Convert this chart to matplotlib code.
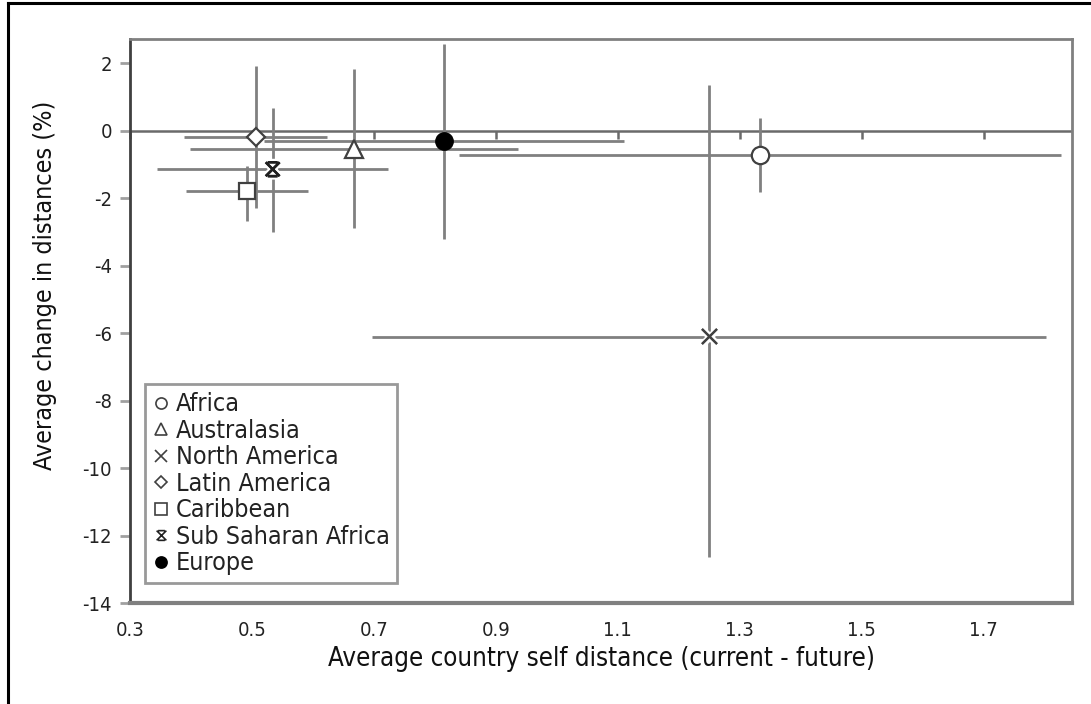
import matplotlib
matplotlib.use("Agg")
import matplotlib.pyplot as plt
from matplotlib.lines import Line2D
from matplotlib.path import Path
import matplotlib.patheffects as pe

# ---------------- data ----------------
regions = ["Africa", "Australasia", "North America", "Latin America",
           "Caribbean", "Sub Saharan Africa", "Europe"]
x_vals = [1.333, 0.667, 1.250, 0.506, 0.492, 0.534, 0.815]
y_vals = [-0.72, -0.53, -6.10, -0.18, -1.78, -1.14, -0.31]
x_err = [0.494, 0.269, 0.553, 0.117, 0.100, 0.189, 0.296]
y_err_low = [1.11, 2.35, 6.55, 2.10, 0.89, 1.87, 2.89]
y_err_high = [1.11, 2.35, 7.45, 2.10, 0.74, 1.81, 2.89]

x_ticks = [0.3, 0.5, 0.7, 0.9, 1.1, 1.3, 1.5, 1.7]
y_ticks = [2, 0, -2, -4, -6, -8, -10, -12, -14]
x_label = "Average country self distance (current - future)"
y_label = "Average change in distances (%)"

# ---------------- styles ----------------
star = Path([(-1, -1), (1, 1), (-1, 1), (1, -1), (-0.7, 1), (0.7, 1), (-0.7, -1), (0.7, -1)],
            [Path.MOVETO, Path.LINETO, Path.MOVETO, Path.LINETO,
             Path.MOVETO, Path.LINETO, Path.MOVETO, Path.LINETO])
marker_styles = {
    "Africa": dict(marker="o", mfc="white", mec="#404040", ms=12.5, mew=1.6),
    "Australasia": dict(marker="^", mfc="white", mec="#404040", ms=13, mew=1.6),
    "North America": dict(marker="x", mfc="none", mec="#404040", ms=11, mew=1.6),
    "Latin America": dict(marker="D", mfc="white", mec="#404040", ms=9.5, mew=1.6),
    "Caribbean": dict(marker="s", mfc="white", mec="#404040", ms=12, mew=1.6),
    "Sub Saharan Africa": dict(marker=star, mfc="none", mec="#202020", ms=10, mew=1.8),
    "Europe": dict(marker="o", mfc="black", mec="black", ms=12.5, mew=1.0),
}
legend_sizes = {"Africa": 8, "Australasia": 8, "North America": 8, "Latin America": 6,
                "Caribbean": 8, "Sub Saharan Africa": 7, "Europe": 8}

FONT = dict(family="DejaVu Sans", stretch="condensed")
plt.rcParams["font.family"] = "DejaVu Sans"

fig = plt.figure(figsize=(10.91, 7.04), dpi=100)
ax = fig.add_axes([130 / 1091, 1 - 603 / 704, 942 / 1091, 564 / 704])

XMIN, XMAX = 0.3, 1.845
YMIN, YMAX = -14, 2.72
ax.set_xlim(XMIN, XMAX)
ax.set_ylim(YMIN, YMAX)

grey = "#808080"
# error bars
for i, r in enumerate(regions):
    ax.errorbar([x_vals[i]], [y_vals[i]], xerr=[x_err[i]],
                yerr=[[y_err_low[i]], [y_err_high[i]]],
                fmt="none", ecolor=grey, elinewidth=2.0, capsize=0, zorder=2)

# markers
for i, r in enumerate(regions):
    st = marker_styles[r]
    ln, = ax.plot([x_vals[i]], [y_vals[i]], linestyle="none", zorder=4, **st)
    if r in ("North America", "Sub Saharan Africa"):
        ln.set_path_effects([pe.withStroke(linewidth=5, foreground="white"), pe.Normal()])

# zero line with downward ticks
ax.axhline(0, color="#6a6a6a", lw=1.8, zorder=1)
frac0 = (0 - YMIN) / (YMAX - YMIN)
sec = ax.secondary_xaxis(frac0)
for s in sec.spines.values():
    s.set_visible(False)
sec.set_xticks(x_ticks)
sec.set_xticklabels([])
sec.tick_params(axis="x", which="both", direction="in", length=6, width=1.8,
                color="#6a6a6a", labeltop=False, labelbottom=False)

# spines
for s in ["top", "right", "bottom"]:
    ax.spines[s].set_color(grey)
ax.spines["top"].set_linewidth(2.0)
ax.spines["right"].set_linewidth(2.0)
ax.spines["bottom"].set_linewidth(3.0)
ax.spines["left"].set_color("#404040")
ax.spines["left"].set_linewidth(2.0)

ax.set_xticks(x_ticks)
ax.set_xticklabels([f"{v:.1f}" for v in x_ticks], fontsize=14.5, color="#222222", **FONT)
ax.set_yticks(y_ticks)
ax.set_yticklabels([str(v) for v in y_ticks], fontsize=14.5, color="#222222", **FONT)
ax.tick_params(axis="x", length=0, pad=13)
ax.tick_params(axis="y", direction="out", length=7, width=2, color="#a0a0a0", pad=6)

ax.set_xlabel(x_label, fontsize=18.5, color="#111111", **FONT)
ax.xaxis.set_label_coords(0.5, -0.076)
ax.set_ylabel(y_label, fontsize=18, color="#111111", **FONT)
ax.yaxis.set_label_coords(-0.077, 0.564)

# legend
handles = []
for r in regions:
    st = dict(marker_styles[r])
    st["ms"] = legend_sizes[r]
    st["mew"] = 1.2
    handles.append(Line2D([], [], linestyle="none", **st))
leg = ax.legend(handles, regions, loc="lower left", bbox_to_anchor=(0.016, 0.035),
                borderaxespad=0, frameon=True, fancybox=False, handlelength=0.6,
                handletextpad=0.3, labelspacing=0.1, borderpad=0.32,
                prop=dict(size=18, **FONT))
leg.get_frame().set_edgecolor(grey)
leg.get_frame().set_linewidth(2.0)
for t in leg.get_texts():
    t.set_color("#222222")

# outer figure border (top and left visible)
fig.add_artist(Line2D([8 / 1091, 8 / 1091], [0, 1 - 3 / 704], color="black", lw=2.2,
                      transform=fig.transFigure))
fig.add_artist(Line2D([8 / 1091, 1], [1 - 3 / 704, 1 - 3 / 704], color="black", lw=2.2,
                      transform=fig.transFigure))

fig.savefig("out.png", dpi=100)
